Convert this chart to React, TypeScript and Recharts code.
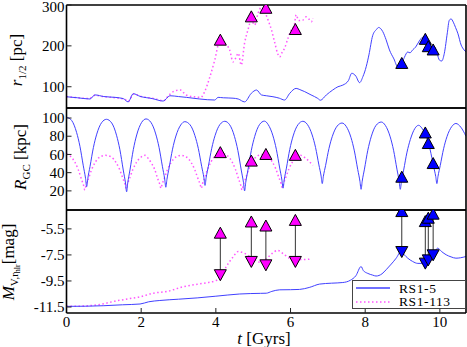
import { ComposedChart, Line, Scatter, XAxis, YAxis, Legend } from 'recharts';

const FONT = '"Liberation Serif", "DejaVu Serif", serif';
const BLUE_LINE = '#4040ff';
const MAG_LINE = '#ff55ff';
const BLUE = '#0000ff';
const MAGENTA = '#ff00ff';

const X_MAX = 10.7;
const xTicks = [0, 2, 4, 6, 8, 10];
const rhalfTicks = [100, 200, 300];
const rgcTicks = [20, 40, 60, 80, 100];
const magTicks = [-5.5, -7.5, -9.5, -11.5];

// [t (Gyr), value]
const rhalfRS15: [number, number][] = [
  [0, 75.5], [0.3, 73], [0.63, 70], [0.76, 80], [1.0, 76], [1.3, 74], [1.52, 71], [1.65, 63], [1.79, 83],
  [1.97, 76.5], [2.3, 71], [2.59, 65], [2.77, 78], [3.0, 76], [3.21, 74], [3.57, 70], [3.97, 67.5], [4.06, 74],
  [4.2, 73], [4.46, 72], [4.6, 70], [4.77, 63], [4.95, 84], [5.09, 92], [5.22, 80], [5.35, 78], [5.53, 75.6],
  [5.7, 72], [5.84, 67.5], [5.98, 84], [6.15, 96], [6.25, 93], [6.38, 88], [6.55, 80], [6.73, 71.5], [6.8, 67],
  [6.96, 80], [7.13, 92], [7.27, 100], [7.4, 104], [7.55, 115], [7.64, 133], [7.75, 126], [7.85, 110],
  [7.94, 125], [8.03, 150], [8.1, 178], [8.2, 225], [8.3, 240], [8.36, 245], [8.47, 235], [8.56, 215],
  [8.65, 190], [8.77, 168], [8.87, 149], [8.95, 150], [9.05, 172], [9.14, 185], [9.2, 183], [9.27, 190],
  [9.35, 197], [9.45, 212], [9.54, 221], [9.65, 205], [9.75, 195], [9.86, 198], [9.93, 180], [9.99, 165],
  [10.05, 163], [10.12, 182], [10.2, 232], [10.25, 262], [10.3, 266], [10.36, 258], [10.42, 245],
  [10.48, 231], [10.57, 202], [10.65, 190], [10.7, 185],
];

const rhalfRS1113: [number, number][] = [
  [0, 76], [0.3, 73], [0.6, 71], [0.76, 79], [1.0, 76], [1.3, 73], [1.55, 70], [1.65, 64], [1.8, 82],
  [2.0, 76], [2.3, 72], [2.6, 66], [2.75, 80], [2.9, 90], [3.05, 92], [3.2, 80], [3.45, 75], [3.6, 74],
  [3.7, 88], [3.84, 124], [3.97, 165], [4.1, 210], [4.25, 205], [4.37, 190], [4.46, 161], [4.53, 170],
  [4.6, 182], [4.68, 153], [4.77, 207], [4.86, 239], [4.95, 263], [5.04, 251], [5.13, 280], [5.22, 294],
  [5.3, 285], [5.4, 263], [5.49, 239], [5.58, 207], [5.66, 180], [5.71, 173], [5.78, 185], [5.84, 194],
  [5.93, 218], [6.02, 239], [6.1, 250], [6.15, 276], [6.22, 262], [6.33, 263], [6.42, 271], [6.5, 265],
  [6.56, 259], [6.6, 268],
];

const rgcRS15: [number, number][] = [
  [0, 101], [0.14, 97.2], [0.27, 84.2], [0.36, 68.9], [0.45, 47.5], [0.51, 33.8], [0.54, 24.6], [0.57, 33.5],
  [0.63, 46.8], [0.72, 67.5], [0.81, 82.3], [0.94, 94.9], [1.07, 98.6],
  [1.21, 94.6], [1.34, 81.1], [1.43, 65.2], [1.52, 42.9], [1.58, 28.6], [1.61, 19], [1.64, 28.6], [1.7, 43],
  [1.79, 65.4], [1.88, 81.4], [2.01, 95], [2.13, 99],
  [2.26, 95.3], [2.39, 82.5], [2.48, 67.5], [2.57, 46.5], [2.63, 33], [2.66, 24], [2.69, 32.6], [2.75, 45.6],
  [2.84, 65.8], [2.93, 80.2], [3.06, 92.4], [3.17, 96],
  [3.31, 92.5], [3.44, 80.6], [3.53, 66.6], [3.62, 47], [3.68, 34.4], [3.71, 26], [3.74, 34.4], [3.8, 47.1],
  [3.89, 66.8], [3.98, 80.9], [4.11, 92.9], [4.24, 96.4],
  [4.37, 92.6], [4.5, 79.6], [4.59, 64.3], [4.68, 42.9], [4.74, 29.2], [4.77, 20], [4.8, 29.2], [4.86, 43],
  [4.95, 64.4], [5.04, 79.7], [5.17, 92.8], [5.3, 96.6],
  [5.4, 92.9], [5.53, 80.4], [5.62, 65.7], [5.71, 45.1], [5.77, 31.8], [5.8, 23], [5.83, 31.8], [5.89, 45],
  [5.98, 65.6], [6.07, 80.3], [6.2, 92.7], [6.33, 96.4],
  [6.45, 93], [6.58, 81.4], [6.67, 67.7], [6.76, 48.5], [6.82, 36.2], [6.85, 28], [6.88, 36], [6.94, 48],
  [7.03, 66.6], [7.12, 79.9], [7.25, 91.2], [7.38, 94.5],
  [7.49, 90.9], [7.62, 78.5], [7.71, 63.9], [7.8, 43.5], [7.86, 30.4], [7.89, 21.7], [7.92, 30.6], [7.98, 43.9],
  [8.07, 64.6], [8.16, 79.3], [8.29, 91.9], [8.43, 95.6],
  [8.54, 91.9], [8.67, 79.3], [8.76, 64.6], [8.85, 43.9], [8.91, 30.6], [8.94, 21.7], [8.97, 30.1], [9.03, 42.8],
  [9.12, 62.5], [9.21, 76.5], [9.33, 88.5], [9.43, 92],
  [9.52, 88.8], [9.65, 77.9], [9.74, 65.1], [9.83, 47.2], [9.89, 35.7], [9.92, 28], [9.95, 35.9], [10.01, 47.8],
  [10.1, 66.3], [10.19, 79.5], [10.32, 90.7], [10.43, 94], [10.56, 90], [10.7, 80],
];

const rgcRS1113: [number, number][] = [
  [0, 60.5], [0.09, 58.5], [0.22, 51.8], [0.31, 43.9], [0.4, 32.9], [0.46, 25.7], [0.49, 21], [0.52, 25.6],
  [0.58, 32.4], [0.67, 43], [0.76, 50.6], [0.89, 57.1], [1.05, 59],
  [1.2, 57.2], [1.33, 51], [1.42, 43.8], [1.51, 33.7], [1.57, 27.1], [1.6, 22.8], [1.63, 27.1], [1.69, 33.7],
  [1.78, 43.8], [1.87, 51], [2.0, 57.2], [2.1, 59],
  [2.2, 55], [2.28, 50], [2.36, 43.8], [2.44, 33.7], [2.5, 27.1], [2.53, 22.8], [2.56, 27.1], [2.62, 33.7],
  [2.71, 43.8], [2.8, 51], [2.93, 57.2], [3.07, 59],
  [3.21, 57.2], [3.34, 51], [3.43, 43.8], [3.52, 33.7], [3.58, 27.1], [3.61, 22.8], [3.64, 27.4], [3.7, 34.3],
  [3.79, 45], [3.88, 52.6], [4.01, 59.1], [4.17, 61],
  [4.3, 59], [4.43, 52.2], [4.52, 44.2], [4.61, 33], [4.67, 25.8], [4.7, 21], [4.73, 25.7], [4.79, 32.7],
  [4.88, 43.6], [4.97, 51.4], [5.1, 58], [5.25, 60],
  [5.38, 58.2], [5.51, 52], [5.6, 44.7], [5.69, 34.5], [5.75, 27.9], [5.78, 23.5], [5.81, 27.8], [5.87, 34.3],
  [5.96, 44.4], [6.05, 51.6], [6.18, 57.7], [6.27, 59], [6.4, 56], [6.6, 48],
];

const magRS15: [number, number][] = [
  [0, -11.45], [0.5, -11.44], [1.0, -11.4], [1.5, -11.33], [1.97, -11.27], [2.2, -11.1], [2.5, -11.0],
  [3.0, -10.9], [3.5, -10.8], [4.0, -10.67], [4.64, -10.5], [5.2, -10.45], [5.35, -10.44], [5.5, -10.3],
  [5.71, -10.18], [6.0, -10.17], [6.24, -10.15], [6.5, -10.0], [6.78, -9.74], [7.1, -9.67], [7.4, -9.62],
  [7.6, -9.45], [7.75, -9.1], [7.89, -8.39], [7.95, -8.7], [8.07, -8.92], [8.2, -9.05], [8.29, -9.12],
  [8.45, -8.95], [8.56, -8.64], [8.7, -8.2], [8.83, -7.75], [8.96, -7.24], [9.05, -7.5], [9.14, -7.75],
  [9.27, -8.0], [9.41, -8.15], [9.6, -8.15], [9.75, -7.85], [9.85, -7.35], [9.94, -6.98], [10.05, -7.25],
  [10.17, -7.49], [10.3, -7.65], [10.43, -7.75], [10.55, -7.72], [10.7, -7.62],
];

const magRS1113: [number, number][] = [
  [0, -11.45], [0.5, -11.42], [0.9, -11.3], [1.3, -11.05], [1.7, -10.85], [2.0, -10.7], [2.3, -10.45],
  [2.7, -10.3], [3.12, -9.95], [3.5, -9.75], [4.02, -9.45], [4.15, -9.1], [4.28, -8.4], [4.45, -7.7],
  [4.6, -7.24], [4.75, -7.35], [4.91, -7.62], [5.05, -7.9], [5.17, -8.05], [5.35, -7.8], [5.5, -7.4],
  [5.66, -7.15], [5.8, -7.4], [5.98, -7.75], [6.2, -7.85], [6.4, -7.85], [6.56, -7.8],
];

// marked snapshots
const markTimeRS1113 = [4.12, 4.95, 5.34, 6.13];
const rhalfMarkRS1113 = [214, 271, 292, 240];
const rgcMarkRS1113 = [62, 52.7, 60, 59];
const magUpRS1113 = [-5.83, -4.97, -5.28, -4.85];
const magDownRS1113 = [-9.02, -8.0, -8.26, -8.0];

const markTimeRS15 = [8.98, 9.61, 9.69, 9.82];
const rhalfMarkRS15 = [157, 216, 198, 190];
const rgcMarkRS15 = [35, 83.6, 72, 50];
const magUpRS15 = [-4.17, -4.94, -4.68, -4.37];
const magDownRS15 = [-7.24, -8.13, -7.88, -7.49];

const legendItems = [
  { name: 'RS1-5', color: BLUE_LINE, dash: undefined },
  { name: 'RS1-113', color: MAG_LINE, dash: '1.5 2.5' },
];

const pts = (a: [number, number][]) => a.map(([t, v]) => ({ t, v }));
const marks = (ts: number[], vs: number[]) => ts.map((t, i) => ({ t, v: vs[i] }));

const triUp = (color: string) => (p: any) => (
  <polygon
    points={`${p.cx},${p.cy - 6} ${p.cx - 6},${p.cy + 5} ${p.cx + 6},${p.cy + 5}`}
    fill={color}
    stroke="#000"
    strokeWidth={1}
  />
);
const triDown = (color: string) => (p: any) => (
  <polygon
    points={`${p.cx},${p.cy + 6} ${p.cx - 6},${p.cy - 5} ${p.cx + 6},${p.cy - 5}`}
    fill={color}
    stroke="#000"
    strokeWidth={1}
  />
);

const tickFont = { fontFamily: FONT, fontSize: 15, fill: '#000' };
const axisLine = { stroke: '#000', strokeWidth: 1.6 };
const tickLine = { stroke: '#222', strokeWidth: 1 };

// left tick labels; keeps the topmost one inside the page
const YTick = (p: any) => (
  <text x={p.x} y={Math.max(p.y, 6.5)} dy="0.35em" textAnchor="end" fontFamily={FONT} fontSize={15} fill="#000">
    {p.payload.value}
  </text>
);

const frame = (yDomain: number[], yTicks: number[], bottomHeight: number, showX: boolean) => [
  <XAxis
    key="xb"
    dataKey="t"
    type="number"
    domain={[0, X_MAX]}
    ticks={xTicks}
    interval={0}
    allowDataOverflow
    height={bottomHeight}
    tick={showX ? tickFont : false}
    tickSize={-5}
    tickMargin={8}
    axisLine={axisLine}
    tickLine={tickLine}
  />,
  <XAxis
    key="xt"
    xAxisId="top"
    orientation="top"
    type="number"
    domain={[0, X_MAX]}
    ticks={xTicks}
    interval={0}
    allowDataOverflow
    height={1}
    tick={false}
    tickSize={-5}
    axisLine={axisLine}
    tickLine={tickLine}
  />,
  <YAxis
    key="yl"
    dataKey="v"
    type="number"
    domain={yDomain}
    ticks={yTicks}
    interval={0}
    allowDataOverflow
    width={66.5}
    tick={<YTick />}
    tickSize={-5}
    tickMargin={7}
    axisLine={axisLine}
    tickLine={tickLine}
  />,
  <YAxis
    key="yr"
    yAxisId="right"
    orientation="right"
    type="number"
    domain={yDomain}
    ticks={yTicks}
    interval={0}
    allowDataOverflow
    width={1}
    tick={false}
    tickSize={-5}
    axisLine={axisLine}
    tickLine={tickLine}
  />,
];

const LegendBox = () => (
  <div
    style={{
      width: 114,
      height: 29,
      boxSizing: 'border-box',
      border: '1px solid #444',
      background: '#fff',
      fontFamily: FONT,
      fontSize: 13.5,
      paddingTop: 0.5,
    }}
  >
    {legendItems.map((it) => (
      <div key={it.name} style={{ display: 'flex', alignItems: 'center', height: 13.5 }}>
        <svg width={40} height={10} style={{ marginLeft: 2 }}>
          <line x1={1} x2={35} y1={5} y2={5} stroke={it.color} strokeWidth={1.3} strokeDasharray={it.dash} />
        </svg>
        <span style={{ marginLeft: 4, lineHeight: '13.5px', letterSpacing: 0.6 }}>{it.name}</span>
      </div>
    ))}
  </div>
);

const W = 467;

export default function App() {
  return (
    <div style={{ position: 'fixed', left: 0, top: 0, width: W, height: 347, background: '#fff' }}>
      {/* r_1/2 panel */}
      <div style={{ position: 'absolute', left: 0, top: 0 }}>
        <ComposedChart width={W} height={109} margin={{ top: 4, right: 0, bottom: 0, left: 0 }}>
          {frame([48, 300], rhalfTicks, 1, false)}
          <Line data={pts(rhalfRS1113)} dataKey="v" type="monotone" stroke={MAG_LINE} strokeWidth={1.5}
            strokeDasharray="1.5 2.5" dot={false} isAnimationActive={false} />
          <Line data={pts(rhalfRS15)} dataKey="v" type="monotone" stroke={BLUE_LINE} strokeWidth={1}
            dot={false} isAnimationActive={false} />
          <Scatter data={marks(markTimeRS1113, rhalfMarkRS1113)} dataKey="v" shape={triUp(MAGENTA)} isAnimationActive={false} />
          <Scatter data={marks(markTimeRS15, rhalfMarkRS15)} dataKey="v" shape={triUp(BLUE)} isAnimationActive={false} />
        </ComposedChart>
      </div>

      {/* R_GC panel */}
      <div style={{ position: 'absolute', left: 0, top: 100 }}>
        <ComposedChart width={W} height={112} margin={{ top: 7, right: 0, bottom: 1, left: 0 }}>
          {frame([-1, 111], rgcTicks, 1, false)}
          <Line data={pts(rgcRS1113)} dataKey="v" type="monotone" stroke={MAG_LINE} strokeWidth={1.5}
            strokeDasharray="1.5 2.5" dot={false} isAnimationActive={false} />
          <Line data={pts(rgcRS15)} dataKey="v" type="monotone" stroke={BLUE_LINE} strokeWidth={1}
            dot={false} isAnimationActive={false} />
          <Scatter data={marks(markTimeRS1113, rgcMarkRS1113)} dataKey="v" shape={triUp(MAGENTA)} isAnimationActive={false} />
          <Scatter data={marks(markTimeRS15, rgcMarkRS15)} dataKey="v" shape={triUp(BLUE)} isAnimationActive={false} />
        </ComposedChart>
      </div>

      {/* M_V panel */}
      <div style={{ position: 'absolute', left: 0, top: 202 }}>
        <ComposedChart width={W} height={145} margin={{ top: 7, right: 0, bottom: 0, left: 0 }}>
          {frame([-11.96, -4.05], magTicks, 34, true)}
          <Line data={pts(magRS1113)} dataKey="v" type="monotone" stroke={MAG_LINE} strokeWidth={1.5}
            strokeDasharray="1.5 2.5" dot={false} isAnimationActive={false} />
          <Line data={pts(magRS15)} dataKey="v" type="monotone" stroke={BLUE_LINE} strokeWidth={1}
            dot={false} isAnimationActive={false} />
          {markTimeRS1113.map((t, i) => (
            <Line key={`am${i}`} data={[{ t, v: magUpRS1113[i] }, { t, v: magDownRS1113[i] }]} dataKey="v"
              type="linear" stroke="#333" strokeWidth={1} dot={false} isAnimationActive={false} />
          ))}
          {markTimeRS15.map((t, i) => (
            <Line key={`ab${i}`} data={[{ t, v: magUpRS15[i] }, { t, v: magDownRS15[i] }]} dataKey="v"
              type="linear" stroke="#333" strokeWidth={1} dot={false} isAnimationActive={false} />
          ))}
          <Scatter data={marks(markTimeRS1113, magUpRS1113)} dataKey="v" shape={triUp(MAGENTA)} isAnimationActive={false} />
          <Scatter data={marks(markTimeRS1113, magDownRS1113)} dataKey="v" shape={triDown(MAGENTA)} isAnimationActive={false} />
          <Scatter data={marks(markTimeRS15, magUpRS15)} dataKey="v" shape={triUp(BLUE)} isAnimationActive={false} />
          <Scatter data={marks(markTimeRS15, magDownRS15)} dataKey="v" shape={triDown(BLUE)} isAnimationActive={false} />
          <Legend
            layout="vertical"
            align="center"
            verticalAlign="middle"
            content={<LegendBox />}
            wrapperStyle={{ left: 352, top: 78, width: 114, height: 29 }}
          />
        </ComposedChart>
      </div>

      {/* axis titles */}
      <svg width={W} height={347} fontFamily={FONT} fontSize={17}
        style={{ position: 'absolute', left: 0, top: 0, pointerEvents: 'none' }}>
        <text transform="translate(22,60) rotate(-90)" textAnchor="middle">
          <tspan fontStyle="italic">r</tspan>
          <tspan fontSize={11} dy={4}>1/2</tspan>
          <tspan dy={-4}> [pc]</tspan>
        </text>
        <text transform="translate(26,157) rotate(-90)" textAnchor="middle">
          <tspan fontStyle="italic">R</tspan>
          <tspan fontSize={11} dy={4}>GC</tspan>
          <tspan dy={-4}> [kpc]</tspan>
        </text>
        <text transform="translate(14,262) rotate(-90)" textAnchor="middle">
          <tspan fontStyle="italic">M</tspan>
          <tspan fontSize={11} dy={4}>V,r</tspan>
          <tspan fontSize={8} dy={2}>hlr</tspan>
          <tspan dy={-6}>[mag]</tspan>
        </text>
        <text x={264} y={344} textAnchor="middle">
          <tspan fontStyle="italic">t</tspan> [Gyrs]
        </text>
      </svg>
    </div>
  );
}
